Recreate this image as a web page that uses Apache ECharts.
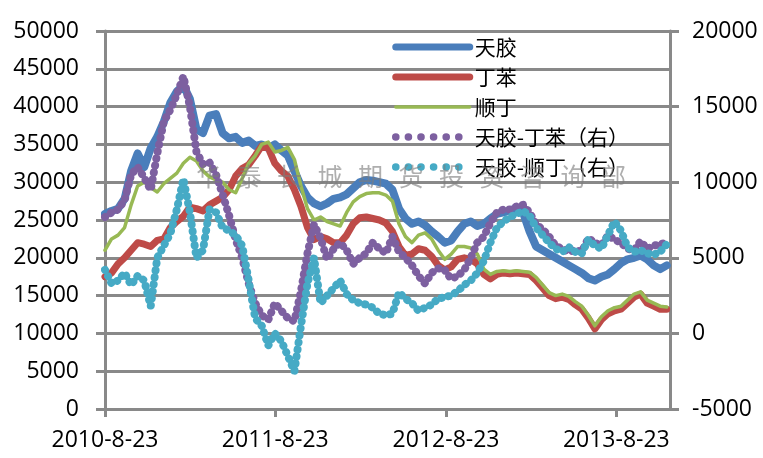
<!DOCTYPE html>
<html>
<head>
<meta charset="utf-8">
<script src="https://cdn.jsdelivr.net/npm/echarts@6/dist/echarts.min.js"></script>
<style>
  html, body { margin: 0; padding: 0; background: #fff; }
  #chart { width: 763px; height: 458px; }
</style>
</head>
<body>
<div id="chart"></div>
<script>
// samples every 14 days starting 2010-8-23
const startDate = '2010-08-23'
const stepDays = 14
const endDate = '2013-12-16'

const tickDates = ['2010-08-23', '2011-08-23', '2012-08-23', '2013-08-23']
const tickLabels = ['2010-8-23', '2011-8-23', '2012-8-23', '2013-8-23']

// left axis (yuan/ton)
const rubber = [25800, 26200, 26500, 27800, 31500, 33800, 32000, 34500, 36000, 38000,
  40500, 42000, 42800, 41000, 37000, 36500, 38800, 39000, 36500, 35800,
  36000, 35200, 35500, 34800, 35000, 34500, 35000, 34200, 33500, 31500,
  29500, 28000, 27200, 26800, 27200, 27800, 28000, 28400, 29200, 30000,
  30300, 30200, 30000, 29800, 29000, 26500, 25200, 24500, 24800, 24300,
  23500, 22800, 22000, 22300, 23500, 24500, 24800, 24200, 24500, 25200,
  25800, 26000, 26300, 26500, 26000, 23500, 21500, 21000, 20500, 20000,
  19500, 19000, 18500, 18000, 17300, 17000, 17500, 17800, 18500, 19300,
  19800, 20000, 20300, 19800, 19000, 18500, 19000]

const sbr = [17500, 18000, 19200, 20000, 21000, 22000, 21800, 21500, 22300, 22500,
  24000, 24800, 25500, 26700, 26500, 26200, 27000, 27500, 28000, 29000,
  30800, 31800, 32300, 33500, 34800, 34500, 32500, 31500, 30800, 29000,
  26800, 24000, 22400, 22800, 22500, 22000, 22000, 23000, 24500, 25300,
  25400, 25200, 25000, 24600, 23500, 21500, 20300, 20500, 21200, 21000,
  20200, 19000, 18400, 18800, 19800, 20000, 19800, 19200, 17800, 17200,
  17800, 18000, 17900, 18000, 17900, 17800, 17000, 16000, 15000, 14600,
  14800, 14500, 13800, 13200, 12000, 10600, 11800, 12600, 13000, 13200,
  14000, 14800, 15200, 14000, 13600, 13200, 13200]

const br = [21000, 22500, 23000, 24000, 27000, 29500, 30000, 29300, 28700, 29800,
  30500, 31200, 32500, 33300, 32800, 31500, 30700, 30300, 30000, 29000,
  28600, 30500, 32500, 33500, 35000, 35300, 34000, 34200, 34600, 33000,
  29500, 26500, 25000, 25400, 24800, 24500, 24200, 26000, 27400, 28100,
  28500, 28600, 28600, 28300, 27500, 24500, 22800, 22000, 23000, 23300,
  22500, 21000, 19800, 20500, 21500, 21500, 21300, 20500, 18500, 17800,
  18200, 18300, 18200, 18300, 18200, 18100, 17400, 16400, 15400, 15000,
  15200, 14900, 14200, 13600, 12400, 11000, 12200, 13000, 13400, 13600,
  14400, 15200, 15500, 14400, 14000, 13600, 13500]

// right axis spreads
const spreadSbr = [7700, 8000, 8200, 8800, 10500, 11000, 10300, 9500, 11900, 14000,
  14800, 15800, 17000, 15000, 12000, 11200, 11300, 10500, 9200, 7800,
  6200, 5000, 3300, 2000, 1200, 900, 2000, 1500, 1000, 800,
  2800, 5300, 7200, 6300, 4900, 5600, 6000, 5500, 4600, 5000,
  5300, 6000, 5600, 5300, 6400, 5400, 5000, 4500, 3800, 3300,
  4000, 4300, 4200, 3600, 3800, 4200, 5000, 6000, 6400, 7300,
  8000, 8200, 8200, 8400, 8500, 8000, 7200, 6900, 6400, 5800,
  5600, 5400, 5500, 5400, 6300, 6000, 5800, 6500, 6200, 6000,
  5600, 5500, 6100, 5600, 5800, 5900, 6000]

const spreadBr = [4200, 3300, 3500, 4000, 3200, 3800, 3500, 1800, 5000, 5800,
  6600, 8200, 10200, 8000, 5000, 5500, 8200, 8000, 7000, 6800,
  6500, 5800, 3500, 1000, 500, -800, 0, -500, -1500, -2500,
  500, 3300, 5000, 2000, 2500, 3000, 3500, 2600, 2200, 2000,
  1900, 1700, 1300, 1200, 1300, 2700, 2300, 2000, 1500, 1700,
  1900, 2300, 2400, 2500, 2800, 3200, 3500, 4000, 4800, 6000,
  7000, 7400, 7700, 7900, 8100, 7800, 7000, 6500, 6000, 5600,
  5400, 5700, 5400, 5300, 6200, 5800, 5600, 6500, 7400, 6800,
  5700, 5400, 5500, 5300, 5200, 5400, 5900]

const names = ['天胶', '丁苯', '顺丁', '天胶-丁苯（右）', '天胶-顺丁（右）']
const colors = ['#4A7EBB', '#BE4B48', '#98B954', '#7D60A0', '#46AAC5']
const watermark = '华泰长城期货投资咨询部'

// x is counted in days since startDate
const dayMs = 24 * 3600 * 1000
const dayOf = d => Math.round((new Date(d + 'T00:00:00Z') - new Date(startDate + 'T00:00:00Z')) / dayMs)
const tickDays = tickDates.map(dayOf)
const pair = arr => arr.map((v, i) => [i * stepDays, v])

const FONT = 'Open Sans'
const CJK = 'Noto Sans CJK SC'
const GRID = '#898989'
const DOT = [0.1, 7]

function solid(name, data, color, width) {
  return {
    name, type: 'line', data: pair(data), symbol: 'none', yAxisIndex: 0,
    lineStyle: { color, width, join: 'round', cap: 'round' },
    itemStyle: { color }
  }
}

function dots(name, data, color) {
  return {
    name, type: 'line', data: pair(data), symbol: 'none', yAxisIndex: 1,
    lineStyle: { color, width: 8, type: DOT, cap: 'round', join: 'round' },
    itemStyle: { color }
  }
}

const legendWidths = [7, 7, 3.5, 7.5, 7.5]

const chart = echarts.init(document.getElementById('chart'), null, { renderer: 'canvas' })

chart.setOption({
  animation: false,
  backgroundColor: '#fff',
  grid: { left: 105, right: 93, top: 31, bottom: 49, containLabel: false },
  legend: {
    orient: 'vertical',
    left: 387,
    top: 31,
    itemWidth: 74,
    itemHeight: 14,
    itemGap: 8,
    itemStyle: { opacity: 0 },
    textStyle: { fontFamily: CJK, fontSize: 21, color: '#000', lineHeight: 22 },
    data: names.map((n, i) => ({
      name: n,
      lineStyle: { width: legendWidths[i], cap: 'round', type: i > 2 ? [0.1, 12.5] : 'solid' }
    }))
  },
  xAxis: {
    type: 'value',
    min: 0,
    max: dayOf(endDate),
    axisLine: { lineStyle: { color: GRID, width: 3 } },
    axisTick: { show: true, length: 8, customValues: tickDays, lineStyle: { color: GRID, width: 3 } },
    axisLabel: {
      customValues: tickDays,
      margin: 20,
      fontFamily: FONT, fontSize: 23, color: '#000',
      formatter: v => tickLabels[tickDays.indexOf(v)] || ''
    },
    splitLine: { show: false }
  },
  yAxis: [{
    type: 'value', min: 0, max: 50000, interval: 5000,
    axisLine: { show: true, lineStyle: { color: GRID, width: 3 } },
    axisTick: { show: true, length: 9, lineStyle: { color: GRID, width: 3 } },
    axisLabel: { margin: 26, fontFamily: FONT, fontSize: 23, color: '#000', formatter: v => String(v) },
    splitLine: { lineStyle: { color: GRID, width: 3 } }
  }, {
    type: 'value', min: -5000, max: 20000, interval: 5000, position: 'right',
    axisLine: { show: true, lineStyle: { color: GRID, width: 3 } },
    axisTick: { show: true, length: 9, lineStyle: { color: GRID, width: 3 } },
    axisLabel: { margin: 22, fontFamily: FONT, fontSize: 23, color: '#000', formatter: v => String(v) },
    splitLine: { show: false }
  }],
  graphic: watermark.split('').map((ch, i) => ({
    type: 'text', left: 196 + i * 40.5, top: 164, z: 100, silent: true,
    style: { text: ch, fontFamily: CJK, fontSize: 25, fill: 'rgba(125,125,125,0.62)' }
  })),
  series: [
    solid(names[0], rubber, colors[0], 8),
    solid(names[1], sbr, colors[1], 7),
    solid(names[2], br, colors[2], 3.5),
    dots(names[3], spreadSbr, colors[3]),
    dots(names[4], spreadBr, colors[4])
  ]
})
</script>
</body>
</html>
